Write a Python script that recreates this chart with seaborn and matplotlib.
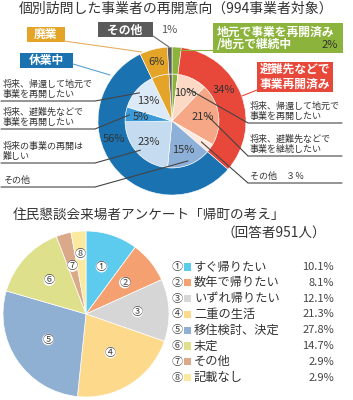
import numpy as np
import matplotlib
matplotlib.use('Agg')
import matplotlib.pyplot as plt
from matplotlib.patches import Rectangle
import seaborn as sns

# top chart: business owners visited (994)
outer_values = [2, 34, 56, 6, 1]
outer_colors = ['#8cb43c', '#e8483a', '#1a72b0', '#e3a428', '#5a5a5a']
outer_text = ['', '34%', '56%', '6%', '']
outer_frac = [0.5, 0.42, 0.6, 0.5, 0.5]   # where along each wedge its label sits

inner_values = [2, 10, 21, 3, 15, 23, 5, 13, 6, 1]
inner_colors = ['#8cb43c', '#fcd9c4', '#f6a785', '#fde9de', '#8db0d8',
                '#c4dbf0', '#3c9ad8', '#dce9f6', '#e3a428', '#5a5a5a']
inner_text = ['', '10%', '21%', '', '15%', '23%', '5%', '13%', '', '']

left_notes = ['将来、帰還して地元で\n事業を再開したい', '将来、避難先などで\n事業を再開したい',
              '将来の事業の再開は\n難しい', 'その他']
left_idx = [7, 6, 5, 4]
right_notes = ['将来、帰還して地元で\n事業を再開したい', '将来、避難先などで\n事業を継続したい',
               'その他　３％']
right_idx = [1, 2, 3]

# bottom chart: survey (951)
survey_marks = ['①', '②', '③', '④', '⑤', '⑥', '⑦', '⑧']
survey_labels = ['すぐ帰りたい', '数年で帰りたい', 'いずれ帰りたい', '二重の生活',
                 '移住検討、決定', '未定', 'その他', '記載なし']
survey_values = [10.1, 8.1, 12.1, 21.3, 27.8, 14.7, 2.9, 2.9]
survey_pct = ['10.1%', '8.1%', '12.1%', '21.3%', '27.8%', '14.7%', '2.9%', '2.9%']
survey_colors = ['#5ccbee', '#f5a070', '#d6d6d6', '#fdd98c',
                 '#8fb0d2', '#dfe08c', '#d9a98a', '#fbe9a0']

sns.set_theme(style='white')
plt.rcParams['font.family'] = ['Noto Sans CJK JP', 'DejaVu Sans']

W, H = 353, 400
fig = plt.figure(figsize=(W / 100, H / 100), dpi=100)
ax = fig.add_axes([0, 0, 1, 1])


def Y(y):
    return H - y


def pt(c, r, ang):
    # ang: matplotlib degrees (counterclockwise from 3 o'clock)
    a = np.deg2rad(ang)
    return c[0] + r * np.cos(a), c[1] + r * np.sin(a)


txt = '#333333'

# ---- top donut ----
c1 = (172, Y(121))
R1, r1 = 74, 47
w_in, _ = ax.pie(inner_values, radius=r1, center=c1, startangle=90, counterclock=False,
                 colors=inner_colors, wedgeprops=dict(edgecolor='white', linewidth=0.4))
w_out, _ = ax.pie(outer_values, radius=R1, center=c1, startangle=90, counterclock=False,
                  colors=outer_colors, wedgeprops=dict(width=R1 - r1, edgecolor='white', linewidth=0.4))

for w, t, f in zip(w_out, outer_text, outer_frac):
    if t:
        # clockwise wedges: theta2 is the start, theta1 the end
        ang = w.theta2 + (w.theta1 - w.theta2) * f
        x, y = pt(c1, (R1 + r1) / 2, ang)
        ax.text(x, y, t, ha='center', va='center', fontsize=8, color=txt)
for w, t in zip(w_in, inner_text):
    if t:
        x, y = pt(c1, 31, (w.theta1 + w.theta2) / 2)
        ax.text(x, y, t, ha='center', va='center', fontsize=8, color=txt)

# left notes with leader lines
left_y = [101, 129, 163, 187]
for note, i, yy in zip(left_notes, left_idx, left_y):
    w = w_in[i]
    ex, ey = pt(c1, 43, (w.theta1 + w.theta2) / 2)
    ax.plot([1, 95, ex], [Y(yy), Y(yy), ey], color='#444444', lw=0.8)
    ax.text(3, Y(yy) + 2, note, ha='left', va='bottom', fontsize=6.5,
            color=txt, linespacing=1.15)

right_y = [123, 156, 183]
for note, i, yy in zip(right_notes, right_idx, right_y):
    w = w_in[i]
    ex, ey = pt(c1, 36, (w.theta1 + w.theta2) / 2)
    ax.plot([ex, 248, 342], [ey, Y(yy), Y(yy)], color='#444444', lw=0.8)
    ax.text(250, Y(yy) + 2, note, ha='left', va='bottom', fontsize=6.5,
            color=txt, linespacing=1.15)

# boxed category labels
boxes = [
    (98, 22, 55, 15, outer_colors[4], 'その他', (125, 30)),
    (27, 27, 38, 15, outer_colors[3], '廃業', (46, 34)),
    (20, 53, 53, 15, outer_colors[2], '休業中', (46, 60)),
    (257, 62, 76, 30, outer_colors[1], '避難先などで\n事業再開済み', (295, 77)),
]
for x0, y0, bw, bh, col, lab, (tx, ty) in boxes:
    ax.add_patch(Rectangle((x0, Y(y0 + bh)), bw, bh, color=col, lw=0))
    ax.text(tx, Y(ty), lab, ha='center', va='center', fontsize=8.5,
            color='white', fontweight='bold', linespacing=1.2)

ax.add_patch(Rectangle((213, Y(53)), 130, 30, color=outer_colors[0], lw=0))
ax.text(217, Y(32), '地元で事業を再開済み', ha='left', va='center', fontsize=8.5,
        color='white', fontweight='bold')
ax.text(217, Y(45), '/地元で継続中', ha='left', va='center', fontsize=8.5,
        color='white', fontweight='bold')
ax.text(338, Y(45), '2%', ha='right', va='center', fontsize=8, color=txt)
ax.text(161, Y(30), '1%', ha='left', va='center', fontsize=8, color='#555555')

# box connectors
ax.plot([153, 169], [Y(36), Y(47)], color='#666666', lw=0.8)
ax.plot([64, 142], [Y(41), Y(52)], color='#e8b060', lw=0.8)
ax.plot([73, 110], [Y(64), Y(75)], color='#5aa0d0', lw=0.8)
ax.plot([213, 178], [Y(50), Y(50)], color='#8cb43c', lw=0.8)
ax.plot([257, 242], [Y(90), Y(96)], color='#e8483a', lw=0.8)

ax.text(176, Y(9), '個別訪問した事業者の再開意向（994事業者対象）', ha='center', va='center',
        fontsize=10, color=txt)

# ---- bottom pie ----
ax.text(13, Y(215), '住民懇談会来場者アンケート「帰町の考え」', ha='left', va='center',
        fontsize=9.8, color=txt)
ax.text(326, Y(233), '（回答者951人）', ha='right', va='center', fontsize=9.8, color=txt)

c2 = (86, Y(314))
R2 = 83
w2, _ = ax.pie(survey_values, radius=R2, center=c2, startangle=90, counterclock=False,
               colors=survey_colors, wedgeprops=dict(edgecolor='white', linewidth=0.5))
lab_r = [0.6, 0.6, 0.62, 0.55, 0.55, 0.6, 0.6, 0.72]
for w, m, rr in zip(w2, survey_marks, lab_r):
    x, y = pt(c2, R2 * rr, (w.theta1 + w.theta2) / 2)
    ax.text(x, y, m, ha='center', va='center', fontsize=8, color='#444444',
            bbox=dict(boxstyle='circle,pad=0.02', fc='white', ec='none'))

# legend rows
rows_y = Y(267 + 15.8 * np.arange(len(survey_labels)))
ax.scatter(np.full(len(rows_y), 187.5), rows_y, marker='s', s=26, c=survey_colors, lw=0)
for yy, m, lab, p in zip(rows_y, survey_marks, survey_labels, survey_pct):
    ax.text(177, yy, m, ha='center', va='center', fontsize=8, color='#444444')
    ax.text(194, yy, lab, ha='left', va='center', fontsize=8.8, color=txt)
    ax.text(334, yy, p, ha='right', va='center', fontsize=8, color='#444444')

ax.set_xlim(0, W)
ax.set_ylim(0, H)
ax.set_aspect('equal')
ax.axis('off')
fig.savefig('out.png', dpi=100)
